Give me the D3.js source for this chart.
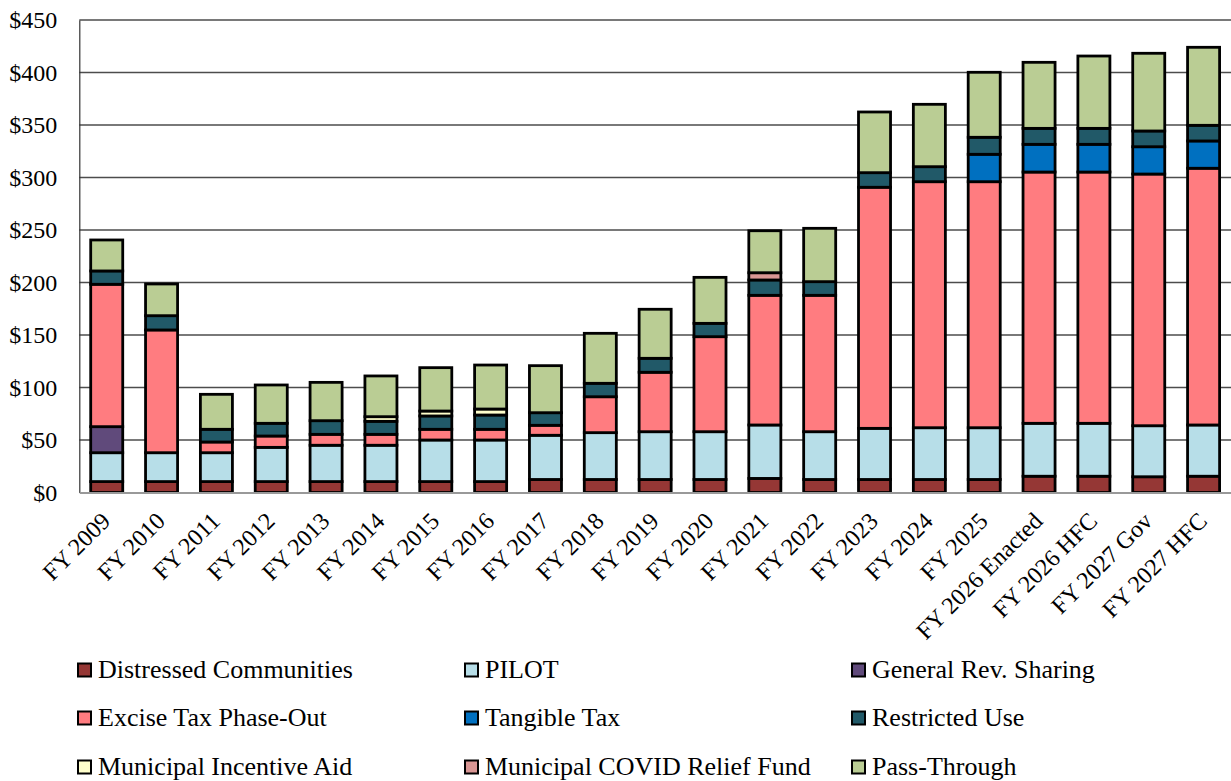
<!DOCTYPE html>
<html lang="en">
<head>
<meta charset="UTF-8">
<title>State Aid to Municipalities</title>
<script src="https://d3js.org/d3.v7.min.js"></script>
<style>
    body {
        margin: 0;
        background: #ffffff;
        overflow: hidden;
    }
    svg text {
        font-family: "Liberation Serif", "Times New Roman", serif;
        fill: #000;
    }
</style>
</head>
<body>
<div id="chart"></div>
<script>
    const years = ["FY 2009", "FY 2010", "FY 2011", "FY 2012", "FY 2013", "FY 2014", "FY 2015",
        "FY 2016", "FY 2017", "FY 2018", "FY 2019", "FY 2020", "FY 2021", "FY 2022", "FY 2023",
        "FY 2024", "FY 2025", "FY 2026 Enacted", "FY 2026 HFC", "FY 2027 Gov", "FY 2027 HFC"];

    // $ millions, bottom of the stack first
    const distressed = [10.4, 10.4, 10.4, 10.4, 10.4, 10.4, 10.4, 10.4, 12.4, 12.4, 12.4, 12.4, 13.4, 12.4, 12.4, 12.4, 12.4, 15.5, 15.5, 15.0, 15.5];
    const pilot = [27.5, 27.5, 27.5, 32.6, 34.6, 34.6, 39.6, 39.6, 42.1, 44.6, 45.5, 45.5, 50.9, 45.5, 48.7, 49.3, 49.3, 50.4, 50.4, 48.6, 48.8];
    const genRevSharing = [24.8, 0, 0, 0, 0, 0, 0, 0, 0, 0, 0, 0, 0, 0, 0, 0, 0, 0, 0, 0, 0];
    const exciseTax = [135.6, 116.9, 10.2, 10.8, 10.4, 10.4, 10.2, 10.2, 9.5, 34.2, 56.6, 90.5, 123.5, 129.9, 229.6, 234.3, 234.3, 239.3, 239.3, 239.7, 244.5];
    const tangibleTax = [0, 0, 0, 0, 0, 0, 0, 0, 0, 0, 0, 0, 0, 0, 0, 0, 26.1, 26.4, 26.4, 26.0, 26.0];
    const restrictedUse = [12.7, 13.6, 12.1, 12.1, 13.0, 12.4, 12.7, 13.6, 12.0, 12.8, 13.3, 12.7, 14.6, 13.0, 13.9, 14.3, 16.2, 15.2, 15.2, 15.0, 14.9];
    const incentiveAid = [0, 0, 0, 0, 0, 4.4, 4.7, 5.7, 0, 0, 0, 0, 0, 0, 0, 0, 0, 0, 0, 0, 0];
    const covidRelief = [0, 0, 0, 0, 0, 0, 0, 0, 0, 0, 0, 0, 6.9, 0, 0, 0, 0, 0, 0, 0, 0];
    const passThrough = [29.5, 30.2, 33.3, 36.5, 36.5, 38.8, 41.3, 41.9, 44.8, 47.6, 46.7, 43.8, 40.0, 50.8, 57.8, 59.4, 61.9, 62.9, 68.9, 74.0, 74.3];

    const yTicks = [0, 50, 100, 150, 200, 250, 300, 350, 400, 450];

    const series = [
        { key: "Distressed Communities", values: distressed, color: "#953735" },
        { key: "PILOT", values: pilot, color: "#b7dee8" },
        { key: "General Rev. Sharing", values: genRevSharing, color: "#604a7b" },
        { key: "Excise Tax Phase-Out", values: exciseTax, color: "#ff7c80" },
        { key: "Tangible Tax", values: tangibleTax, color: "#0070c0" },
        { key: "Restricted Use", values: restrictedUse, color: "#215968" },
        { key: "Municipal Incentive Aid", values: incentiveAid, color: "#ffffcc" },
        { key: "Municipal COVID Relief Fund", values: covidRelief, color: "#d99694" },
        { key: "Pass-Through", values: passThrough, color: "#bacd94" }
    ];

    const W = 1231, H = 781;
    const plot = { left: 79.3, right: 1231, top: 20, bottom: 492.5 };

    const svg = d3.select("#chart").append("svg")
        .attr("width", W)
        .attr("height", H);

    const x = d3.scaleBand()
        .domain(years)
        .range([plot.left, plot.right])
        .paddingInner(0.416)
        .paddingOuter(0.208);

    const y = d3.scaleLinear()
        .domain([0, 450])
        .range([plot.bottom, plot.top]);

    // grid lines
    svg.append("g")
        .selectAll("line")
        .data(yTicks.filter(d => d > 0))
        .join("line")
        .attr("x1", plot.left)
        .attr("x2", plot.right)
        .attr("y1", d => y(d))
        .attr("y2", d => y(d))
        .attr("stroke", "#4d4d4d")
        .attr("stroke-width", 1.4);

    // y axis
    const yAxis = svg.append("g")
        .attr("transform", `translate(${plot.left},0)`)
        .call(d3.axisLeft(y).tickValues(yTicks).tickFormat(d => "$" + d).tickSize(0).tickPadding(22));
    yAxis.select(".domain").attr("stroke", "#333").attr("stroke-width", 1.2);
    yAxis.selectAll("text")
        .attr("font-size", 24)
        .attr("dy", "0.32em");

    // stacked bars
    const table = years.map((yr, i) => {
        const row = { year: yr };
        series.forEach(s => row[s.key] = s.values[i]);
        return row;
    });
    const stacked = d3.stack().keys(series.map(s => s.key))(table);

    svg.append("g")
        .selectAll("g")
        .data(stacked)
        .join("g")
        .attr("fill", (d, i) => series[i].color)
        .selectAll("rect")
        .data(d => d.filter(p => p[1] - p[0] > 0))
        .join("rect")
        .attr("x", d => x(d.data.year))
        .attr("y", d => y(d[1]))
        .attr("width", x.bandwidth())
        .attr("height", d => y(d[0]) - y(d[1]))
        .attr("stroke", "#000")
        .attr("stroke-width", 2.8);

    // bottom axis
    const xAxis = svg.append("g")
        .attr("transform", `translate(0,${plot.bottom})`)
        .call(d3.axisBottom(x).tickSize(0).tickPadding(0));
    xAxis.select(".domain").attr("stroke", "#999").attr("stroke-width", 2);
    xAxis.selectAll("text")
        .attr("font-size", 24)
        .attr("text-anchor", "end")
        .attr("dy", 0)
        .attr("transform", "translate(5,30) rotate(-45)");

    // legend
    const legendCols = [78, 465, 852];
    const legendRows = [670, 718, 767];
    const legend = svg.append("g")
        .selectAll("g")
        .data(series)
        .join("g")
        .attr("transform", (d, i) => `translate(${legendCols[i % 3]},${legendRows[Math.floor(i / 3)]})`);
    legend.append("rect")
        .attr("x", 0)
        .attr("y", -6.5)
        .attr("width", 13)
        .attr("height", 13)
        .attr("fill", d => d.color)
        .attr("stroke", "#000")
        .attr("stroke-width", 2);
    legend.append("text")
        .attr("x", 20)
        .attr("y", 8)
        .attr("font-size", 26)
        .text(d => d.key);
</script>
</body>
</html>
